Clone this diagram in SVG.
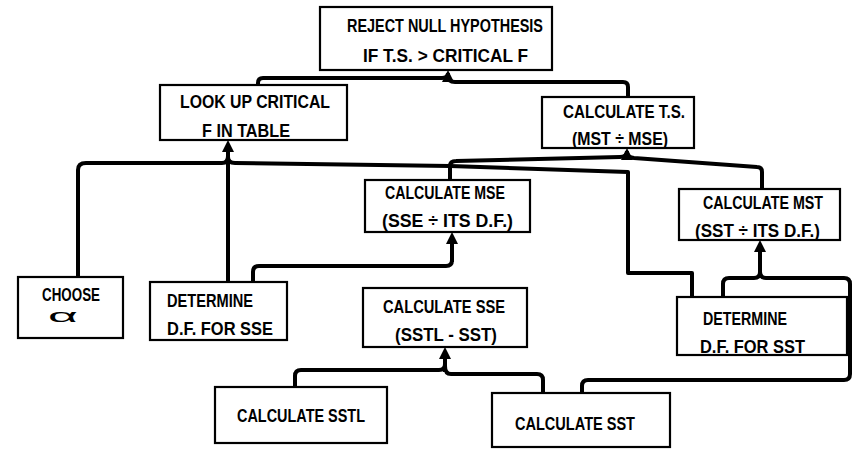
<svg xmlns="http://www.w3.org/2000/svg" width="858" height="451" viewBox="0 0 858 451">
<defs>
<marker id="arr" viewBox="0 0 12 12" refX="8" refY="6" markerWidth="12" markerHeight="12" markerUnits="userSpaceOnUse" orient="auto">
<path d="M0,0 L12,6 L0,12 z" fill="#000"/>
</marker>
<style>
.box{fill:#fff;stroke:#000;stroke-width:2.2}
.t{font-family:"Liberation Sans",Arial,sans-serif;font-size:19px;font-weight:bold;fill:#000}
.c{fill:none;stroke:#000;stroke-width:4;stroke-linejoin:round}
.a{fill:none;stroke:#000;stroke-width:4;marker-end:url(#arr)}
</style>
</defs>
<rect width="858" height="451" fill="#fff"/>
<g id="connectors">
<path class="c" d="M258,85 V83 Q258,78 263,78 H442 Q448,78 448,73"/>
<path class="c" d="M628,97 V87 Q628,82 623,82 H455 Q448,82 448,75"/>
<path class="a" d="M448,80 V74"/>
<path class="c" d="M78,277 V170 Q78,163 86,163 H222 Q228,163 228,156"/>
<path class="c" d="M692,297 V273 H628 V172 L450,166 L235,163 Q228,163 228,157"/>
<path class="a" d="M228,282 V144"/>
<path class="c" d="M450,180 V166 Q450,161 456,161 L620,157 Q627,157 627,151"/>
<path class="c" d="M762,189 V172 Q762,167 757,167 L634,158 Q627,157 627,152"/>
<path class="a" d="M627,157 V152"/>
<path class="c" d="M253,282 V272 Q253,266 259,266 H446 Q452,266 452,260"/>
<path class="a" d="M452,262 V236"/>
<path class="c" d="M295,387 V376 Q295,370 301,370 H439 Q445,370 445,364"/>
<path class="c" d="M543,393 V380 Q543,374 537,374 H451 Q445,374 445,366"/>
<path class="a" d="M445,372 V351"/>
<path class="c" d="M723,297 V284 Q723,278 729,278 H754 Q760,278 760,272"/>
<path class="c" d="M582,393 V386 Q582,380 588,380 H844 Q850,380 850,374 V284 Q850,278 844,278 H766 Q760,278 760,272"/>
<path class="a" d="M760,278 V244"/>
</g>
<g id="reject">
<rect class="box" x="320" y="7" width="232" height="63"/>
<text class="t" x="347" y="32" textLength="196" lengthAdjust="spacingAndGlyphs">REJECT NULL HYPOTHESIS</text>
<text class="t" x="363" y="62" textLength="165" lengthAdjust="spacingAndGlyphs">IF T.S. &gt; CRITICAL F</text>
</g>
<g id="lookup">
<rect class="box" x="160" y="85" width="187" height="55"/>
<text class="t" x="180" y="108" textLength="150" lengthAdjust="spacingAndGlyphs">LOOK UP CRITICAL</text>
<text class="t" x="202" y="137" textLength="88" lengthAdjust="spacingAndGlyphs">F IN TABLE</text>
</g>
<g id="calcts">
<rect class="box" x="542" y="97" width="152" height="51"/>
<text class="t" x="563" y="118" textLength="122" lengthAdjust="spacingAndGlyphs">CALCULATE T.S.</text>
<text class="t" x="572" y="145" textLength="96" lengthAdjust="spacingAndGlyphs">(MST ÷ MSE)</text>
</g>
<g id="calcmse">
<rect class="box" x="365" y="180" width="165" height="52"/>
<text class="t" x="385" y="199" textLength="120" lengthAdjust="spacingAndGlyphs">CALCULATE MSE</text>
<text class="t" x="382" y="227" textLength="131" lengthAdjust="spacingAndGlyphs">(SSE ÷ ITS D.F.)</text>
</g>
<g id="calcmst">
<rect class="box" x="679" y="189" width="161" height="51"/>
<text class="t" x="703" y="209" textLength="120" lengthAdjust="spacingAndGlyphs">CALCULATE MST</text>
<text class="t" x="695" y="237" textLength="125" lengthAdjust="spacingAndGlyphs">(SST ÷ ITS D.F.)</text>
</g>
<g id="choose">
<rect class="box" x="18" y="277" width="105" height="61"/>
<text class="t" x="42" y="301" textLength="58" lengthAdjust="spacingAndGlyphs">CHOOSE</text>
<text x="48" y="322" textLength="30" lengthAdjust="spacingAndGlyphs" style="font-family:'Liberation Sans',Arial,sans-serif;font-size:18px">α</text>
</g>
<g id="dfsse">
<rect class="box" x="150" y="282" width="137" height="58"/>
<text class="t" x="167" y="307" textLength="86" lengthAdjust="spacingAndGlyphs">DETERMINE</text>
<text class="t" x="167" y="335" textLength="106" lengthAdjust="spacingAndGlyphs">D.F. FOR SSE</text>
</g>
<g id="calcsse">
<rect class="box" x="363" y="288" width="164" height="59"/>
<text class="t" x="383" y="313" textLength="122" lengthAdjust="spacingAndGlyphs">CALCULATE SSE</text>
<text class="t" x="395" y="341" textLength="102" lengthAdjust="spacingAndGlyphs">(SSTL - SST)</text>
</g>
<g id="dfsst">
<rect class="box" x="677" y="297" width="170" height="58"/>
<text class="t" x="703" y="325" textLength="84" lengthAdjust="spacingAndGlyphs">DETERMINE</text>
<text class="t" x="700" y="353" textLength="105" lengthAdjust="spacingAndGlyphs">D.F. FOR SST</text>
</g>
<g id="calcsstl">
<rect class="box" x="215" y="387" width="172" height="56"/>
<text class="t" x="237" y="422" textLength="128" lengthAdjust="spacingAndGlyphs">CALCULATE SSTL</text>
</g>
<g id="calcsst">
<rect class="box" x="492" y="393" width="178" height="54"/>
<text class="t" x="515" y="430" textLength="120" lengthAdjust="spacingAndGlyphs">CALCULATE SST</text>
</g>
</svg>
